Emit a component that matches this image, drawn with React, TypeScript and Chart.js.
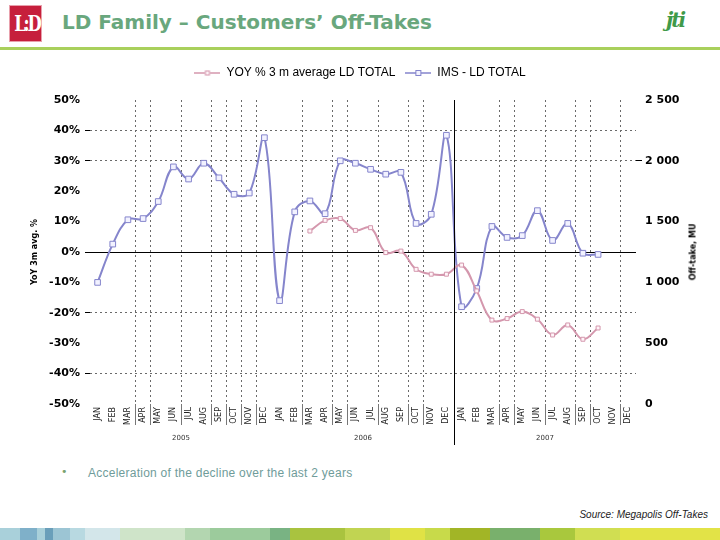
import React, { useEffect, useRef } from "react";
import { Chart, registerables } from "chart.js";

Chart.register(...registerables);

// ---------------- data ----------------
const MONTHS = ["JAN", "FEB", "MAR", "APR", "MAY", "JUN", "JUL", "AUG", "SEP", "OCT", "NOV", "DEC"];
const YEARS = ["2005", "2006", "2007"];
const CATEGORIES = YEARS.flatMap(() => MONTHS);

// IMS - LD TOTAL (Off-take, MU) — right axis
const IMS_2005 = [1000, 1315, 1515, 1525, 1665, 1950, 1850, 1980, 1860, 1725, 1735, 2190];
const IMS_2006 = [850, 1580, 1670, 1565, 2000, 1980, 1930, 1890, 1905, 1485, 1560, 2210];
const IMS_2007 = [800, 950, 1460, 1370, 1385, 1590, 1345, 1485, 1240, 1230, null, null];

// YOY % 3 m average LD TOTAL — left axis
const YOY_2005 = [null, null, null, null, null, null, null, null, null, null, null, null];
const YOY_2006 = [null, null, 6.9, 10.4, 11.0, 7.1, 8.0, -0.2, 0.3, -5.7, -7.3, -7.3];
const YOY_2007 = [-4.3, -12.8, -22.4, -21.9, -19.6, -22.1, -27.3, -24.0, -28.7, -25.0, null, null];

const IMS_VALUES = [...IMS_2005, ...IMS_2006, ...IMS_2007];
const YOY_VALUES = [...YOY_2005, ...YOY_2006, ...YOY_2007];

const LEFT_MIN = -50;
const LEFT_MAX = 50;
const LEFT_STEP = 10;
const RIGHT_MIN = 0;
const RIGHT_MAX = 2500;
const RIGHT_STEP = 500;

const SERIES_NAMES = ["YOY % 3 m average LD TOTAL", "IMS - LD TOTAL"];

// ---------------- styles ----------------
const BLUE = "#8585cc";
const BLUE_FILL = "#f2f2ff";
const PINK = "#d497ad";
const PINK_FILL = "#fff4f8";
const GRID = "#6a6a6a";
const X_GRID_SHOWN = [3, 4, 6, 8, 9, 10, 11, 14, 16, 17, 19, 21, 22, 27, 28, 30, 32, 33, 35];
const Y_GRID_SHOWN = [40, 30, -20, -40];
const LEGEND_EXTRA_SPACE = 11;

const STRIPE = [
  [0, 20, "#a9d0da"], [20, 17, "#7fb0c9"], [37, 8, "#a9d0da"], [45, 8, "#6a9fba"],
  [53, 17, "#9cc5d4"], [70, 15, "#b8d9e1"], [85, 35, "#d3e6ea"], [120, 65, "#cfe4c9"],
  [185, 25, "#b3d6b0"], [210, 60, "#9ccb9c"], [270, 20, "#79b383"], [290, 55, "#a9c33f"],
  [345, 45, "#c1d452"], [390, 35, "#e0e245"], [425, 25, "#c8da4a"], [450, 40, "#a2b526"],
  [490, 50, "#79b06c"], [540, 35, "#a9c83d"], [575, 45, "#d0de52"], [620, 100, "#e2e347"],
];

function legendMarker(color: string, fill: string, size: number) {
  const c = document.createElement("canvas");
  c.width = 26;
  c.height = 10;
  const g = c.getContext("2d")!;
  g.strokeStyle = color;
  g.lineWidth = 1.5;
  g.beginPath();
  g.moveTo(0, 5);
  g.lineTo(26, 5);
  g.stroke();
  g.fillStyle = fill;
  g.lineWidth = 1;
  g.fillRect(13 - size / 2, 5 - size / 2, size, size);
  g.strokeRect(13 - size / 2 + 0.5, 5 - size / 2 + 0.5, size - 1, size - 1);
  return c;
}

const legendSpacer = {
  id: "legendSpacer",
  afterInit(chart: any) {
    const lg = chart.legend;
    if (!lg) return;
    const orig = lg.fit;
    lg.fit = function () {
      orig.call(this);
      this.height += LEGEND_EXTRA_SPACE;
    };
  },
};

const yearSeparator = {
  id: "yearSeparator",
  afterDatasetsDraw(chart: any) {
    const xs = chart.scales.x;
    const x2 = chart.scales.x2;
    const px = Math.round(xs.getPixelForValue(23.5)) + 0.5;
    const ctx = chart.ctx;
    ctx.save();
    ctx.strokeStyle = "#000";
    ctx.lineWidth = 1;
    ctx.setLineDash([]);
    ctx.beginPath();
    ctx.moveTo(px, chart.chartArea.top);
    ctx.lineTo(px, x2.top + 17);
    ctx.stroke();
    ctx.restore();
  },
};

function ChartView() {
  const ref = useRef<HTMLCanvasElement | null>(null);
  useEffect(() => {
    if (!ref.current) return;
    const markers = [legendMarker(PINK, PINK_FILL, 5), legendMarker(BLUE, BLUE_FILL, 6)];
    const chart = new Chart(ref.current, {
      type: "line",
      data: {
        labels: CATEGORIES,
        datasets: [
          {
            label: SERIES_NAMES[0],
            data: YOY_VALUES,
            yAxisID: "y",
            borderColor: PINK,
            borderWidth: 2,
            pointStyle: "rect",
            pointRadius: 2.8,
            pointBackgroundColor: PINK_FILL,
            pointBorderColor: PINK,
            pointBorderWidth: 1,
            tension: 0.4,
            spanGaps: false,
          },
          {
            label: SERIES_NAMES[1],
            data: IMS_VALUES,
            yAxisID: "y2",
            borderColor: BLUE,
            borderWidth: 2,
            pointStyle: "rect",
            pointRadius: 4,
            pointBackgroundColor: BLUE_FILL,
            pointBorderColor: BLUE,
            pointBorderWidth: 1,
            tension: 0.4,
            spanGaps: false,
          },
        ],
      },
      options: {
        animation: false,
        responsive: false,
        maintainAspectRatio: false,
        layout: { padding: { left: 26, right: 26, top: 0, bottom: 0 } },
        plugins: {
          tooltip: { enabled: false },
          legend: {
            position: "top",
            labels: {
              usePointStyle: true,
              pointStyleWidth: 26,
              padding: 10,
              color: "#000",
              font: { family: "Liberation Sans", size: 12 },
              generateLabels: (ch: any) =>
                Chart.defaults.plugins.legend.labels
                  .generateLabels(ch)
                  .map((l: any, i: number) => ({ ...l, pointStyle: markers[i] })),
            },
          },
        },
        scales: {
          x: {
            type: "category",
            position: "bottom",
            offset: true,
            afterFit: (s: any) => {
              s.height = 24;
            },
            grid: {
              display: true,
              offset: true,
              drawOnChartArea: true,
              drawTicks: true,
              tickLength: 21,
              lineWidth: 1,
              color: (c: any) => (X_GRID_SHOWN.includes(c.index) ? GRID : "rgba(0,0,0,0)"),
              tickColor: (c: any) => (X_GRID_SHOWN.includes(c.index) ? "#777" : "rgba(0,0,0,0)"),
              tickBorderDash: [],
            },
            border: { display: false, dash: [2, 3] },
            ticks: {
              autoSkip: false,
              maxRotation: 90,
              minRotation: 90,
              padding: -18,
              color: "#222",
              font: { family: "DejaVu Sans", size: 8 },
            },
          },
          x2: {
            type: "category",
            position: "bottom",
            labels: YEARS,
            offset: true,
            afterFit: (s: any) => {
              s.height = 25;
            },
            grid: { display: false, drawTicks: false },
            border: { display: false },
            ticks: {
              padding: 6,
              color: "#333",
              font: { family: "DejaVu Sans", size: 7 },
            },
          },
          y: {
            type: "linear",
            position: "left",
            min: LEFT_MIN,
            max: LEFT_MAX,
            afterFit: (s: any) => {
              s.width = 64;
            },
            ticks: {
              stepSize: LEFT_STEP,
              padding: 5,
              color: "#000",
              font: { family: "DejaVu Sans", size: 11, weight: "bold" },
              callback: (v: any) => `${v}%`,
            },
            grid: {
              drawTicks: true,
              tickLength: 5,
              lineWidth: 1,
              color: (c: any) =>
                c.tick && c.tick.value === 0
                  ? "#000"
                  : c.tick && Y_GRID_SHOWN.includes(c.tick.value)
                  ? GRID
                  : "rgba(0,0,0,0)",
              tickColor: (c: any) =>
                c.tick && (c.tick.value === 0 || Y_GRID_SHOWN.includes(c.tick.value))
                  ? "#000"
                  : "rgba(0,0,0,0)",
              tickBorderDash: [],
            },
            border: {
              display: false,
              dash: (c: any) => (c.tick && c.tick.value === 0 ? [] : [2, 3]),
            },
            title: {
              display: true,
              text: "YoY 3m avg. %",
              color: "#000",
              padding: { top: 4, bottom: 0 },
              font: { family: "DejaVu Sans", size: 8, weight: "bold" },
            },
          },
          y2: {
            type: "linear",
            position: "right",
            min: RIGHT_MIN,
            max: RIGHT_MAX,
            afterFit: (s: any) => {
              s.width = 58;
            },
            ticks: {
              stepSize: RIGHT_STEP,
              padding: 3,
              color: "#000",
              font: { family: "DejaVu Sans", size: 11, weight: "bold" },
              callback: (v: any) => String(v).replace(/\B(?=(\d{3})+(?!\d))/g, " "),
            },
            grid: {
              drawOnChartArea: false,
              drawTicks: true,
              tickLength: 6,
              tickColor: (c: any) => (c.tick && c.tick.value === 2000 ? "#000" : "rgba(0,0,0,0)"),
            },
            border: { display: false },
          },
        },
      } as any,
      plugins: [legendSpacer, yearSeparator],
    });
    return () => chart.destroy();
  }, []);
  return (
    <canvas
      ref={ref}
      width={720}
      height={396}
      style={{ position: "absolute", left: 0, top: 57, width: 720, height: 396 }}
    />
  );
}

export default function App() {
  return (
    <div
      style={{
        position: "absolute",
        left: 0,
        top: 0,
        width: 720,
        height: 540,
        background: "#fff",
        overflow: "hidden",
        fontFamily: "DejaVu Sans",
      }}
    >
      {/* logo */}
      <div
        style={{
          position: "absolute",
          left: 9,
          top: 5,
          width: 33,
          height: 37,
          background: "#c61f3c",
          boxSizing: "border-box",
          border: "1px solid #e8a0ac",
          color: "#fff",
          fontFamily: "DejaVu Serif",
          fontWeight: "bold",
          fontSize: 22,
          lineHeight: "35px",
          textAlign: "center",
          letterSpacing: -3,
        }}
      >
        <span style={{ display: "inline-block", transform: "scaleX(0.75)" }}>L:D</span>
      </div>
      <div
        style={{
          position: "absolute",
          left: 62,
          top: 10,
          fontFamily: "DejaVu Sans",
          fontWeight: "bold",
          fontSize: 20,
          lineHeight: "24px",
          color: "#69a77d",
          whiteSpace: "nowrap",
        }}
      >
        LD Family – Customers’ Off-Takes
      </div>
      <div
        style={{
          position: "absolute",
          left: 666,
          top: 8,
          fontFamily: "DejaVu Serif",
          fontWeight: "bold",
          fontStyle: "italic",
          fontSize: 20,
          color: "#3f9a4a",
          letterSpacing: -2,
        }}
      >
        jti
      </div>
      <div style={{ position: "absolute", left: 0, top: 47, width: 720, height: 3, background: "#a9d05c" }} />

      <ChartView />

      {/* right axis title */}
      <div
        style={{
          position: "absolute",
          left: 693,
          top: 252,
          transform: "translate(-50%, -50%) rotate(-90deg)",
          fontFamily: "DejaVu Sans",
          fontWeight: "bold",
          fontSize: 8,
          color: "#000",
          whiteSpace: "nowrap",
        }}
      >
        Off-take, MU
      </div>

      {/* bullet */}
      <div style={{ position: "absolute", left: 61, top: 465, fontSize: 11, color: "#7aa36f" }}>•</div>
      <div
        style={{
          position: "absolute",
          left: 88,
          top: 466,
          fontFamily: "Liberation Sans",
          fontSize: 12,
          letterSpacing: 0.25,
          color: "#6f9c9a",
          whiteSpace: "nowrap",
        }}
      >
        Acceleration of the decline over the last 2 years
      </div>
      <div
        style={{
          position: "absolute",
          right: 12,
          top: 509,
          fontFamily: "Liberation Sans",
          fontStyle: "italic",
          fontSize: 10,
          color: "#222",
          whiteSpace: "nowrap",
        }}
      >
        Source: Megapolis Off-Takes
      </div>
      {STRIPE.map(([x, w, c], i) => (
        <div
          key={i}
          style={{
            position: "absolute",
            left: x as number,
            top: 528,
            width: w as number,
            height: 12,
            background: c as string,
          }}
        />
      ))}
    </div>
  );
}
